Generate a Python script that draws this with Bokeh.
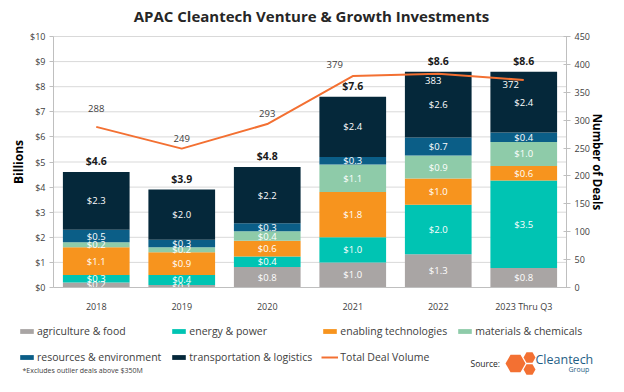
from bokeh.plotting import figure
from bokeh.models import (ColumnDataSource, Range1d, LinearAxis, Legend, LegendItem,
                          Label, NumeralTickFormatter, FixedTicker)
from bokeh.core.properties import value
from bokeh.embed import file_html
from bokeh.resources import INLINE

# ---------------- data ----------------
years = ["2018", "2019", "2020", "2021", "2022", "2023 Thru Q3"]
agriculture = [0.2, 0.1, 0.82, 1.0, 1.32, 0.78]
energy = [0.3, 0.4, 0.42, 1.0, 1.98, 3.48]
enabling = [1.1, 0.9, 0.62, 1.8, 1.04, 0.58]
materials = [0.2, 0.2, 0.38, 1.1, 0.92, 0.96]
resources = [0.5, 0.3, 0.32, 0.3, 0.72, 0.38]
transport = [2.3, 2.0, 2.24, 2.4, 2.62, 2.42]
totals = [4.6, 3.9, 4.8, 7.6, 8.6, 8.6]
deals = [288, 249, 293, 379, 383, 372]
series_names = ["agriculture & food", "energy & power", "enabling technologies",
                "materials & chemicals", "resources & environment",
                "transportation & logistics"]
left_ticks = list(range(0, 11))
right_ticks = list(range(0, 451, 50))

# ---------------- style / layout constants ----------------
FONT = "Open Sans"
colors = ["#A9A5A4", "#00C4B3", "#F7941E", "#8ECBA9", "#0B5E87", "#05283A"]
line_color = "#F37032"
deal_dx = [0, 0, 0, -18, -5, -13]
deal_dy = [-18, -10, -11, -12, 7, 4]
deal_colors = ["#404040", "#404040", "#404040", "#404040", "#FFFFFF", "#FFFFFF"]
lab_col = "#404040"
ax_col = "#BFBFBF"
W, H = 608, 376                  # canvas
PL, PR, PT, PB = 53, 42, 36, 89  # chart area margins inside the frame
OFF = 8                          # page margin offset for the pixel coordinates

n = len(years)
xs = list(range(n))
x_lo, x_hi = -0.5, n - 0.5
ux = (W - PL - PR) / (x_hi - x_lo)
y_max = left_ticks[-1]
uy = (H - PT - PB) / y_max
d_max = right_ticks[-1]
ud = (H - PT - PB) / d_max

p = figure(width=W, height=H, x_range=Range1d(-OFF, W - OFF),
           y_range=Range1d(OFF, H + OFF),
           output_backend="svg", toolbar_location=None,
           x_axis_type=None, y_axis_type=None, min_border=0)
p.extra_x_ranges = {"c": Range1d(x_lo - PL / ux, x_hi + PR / ux)}
p.extra_y_ranges = {"b": Range1d(-PB / uy, y_max + PT / uy),
                    "deals": Range1d(-PB / ud, d_max + PT / ud)}
p.grid.visible = False
p.outline_line_color = None

# grid lines
p.segment(x0=x_lo, x1=x_hi, y0=left_ticks[1:], y1=left_ticks[1:],
          x_range_name="c", y_range_name="b", line_color="#D9D9D9", line_width=1)

series_vals = [agriculture, energy, enabling, materials, resources, transport]
keys = ["s%d" % i for i in range(len(series_vals))]
data = dict(x=xs)
for k, v in zip(keys, series_vals):
    data[k] = v
src = ColumnDataSource(data)
bars = p.vbar_stack(keys, x="x", width=0.78, source=src, fill_color=colors,
                    line_color=None, x_range_name="c", y_range_name="b")

# segment labels
lx, ly, lt = [], [], []
for i in range(n):
    base = 0.0
    for v in series_vals:
        val = v[i]
        lx.append(xs[i])
        ly.append(base + val / 2.0)
        lt.append("$%.1f" % val)
        base += val
p.text(x=lx, y=ly, text=lt, text_align="center", text_baseline="middle",
       text_color="white", text_font=value(FONT), text_font_size="9.5px",
       x_range_name="c", y_range_name="b")

# totals
p.text(x=xs, y=totals, text=["$%.1f" % t for t in totals], y_offset=-11,
       text_align="center", text_baseline="middle", text_color="#1A1A1A",
       text_font=value(FONT), text_font_size="10.5px", text_font_style="bold",
       x_range_name="c", y_range_name="b")

# deal line
ln = p.line(x=xs, y=deals, x_range_name="c", y_range_name="deals",
            line_color=line_color, line_width=2)
dsrc = ColumnDataSource(dict(x=xs, y=deals, t=[str(d) for d in deals],
                             dx=deal_dx, dy=deal_dy, c=deal_colors))
p.text(x="x", y="y", text="t", x_offset="dx", y_offset="dy", text_color="c",
       source=dsrc, x_range_name="c", y_range_name="deals", text_align="center",
       text_baseline="middle", text_font=value(FONT), text_font_size="9.5px")

# axes (fixed at the chart-area edges)
yl = LinearAxis(x_range_name="c", y_range_name="b", fixed_location=x_lo,
                bounds=(0, y_max), ticker=FixedTicker(ticks=left_ticks),
                formatter=NumeralTickFormatter(format="$0"),
                axis_label="Billions")
yr_ax = LinearAxis(x_range_name="c", y_range_name="deals", fixed_location=x_hi,
                   bounds=(0, d_max), ticker=FixedTicker(ticks=right_ticks),
                   axis_label="Number of Deals")
xa = LinearAxis(x_range_name="c", y_range_name="b", fixed_location=0,
                bounds=(x_lo, x_hi), ticker=FixedTicker(ticks=xs),
                major_label_overrides={i: y for i, y in zip(xs, years)})
p.add_layout(yl, "left")
p.add_layout(yr_ax, "right")
p.add_layout(xa, "below")
for ax in (yl, yr_ax):
    ax.axis_line_color = ax_col
    ax.major_tick_line_color = ax_col
    ax.minor_tick_line_color = None
    ax.major_tick_out = 4
    ax.major_tick_in = 0
    ax.major_label_text_font = FONT
    ax.major_label_text_font_size = "9px"
    ax.major_label_text_color = lab_col
    ax.axis_label_text_font = FONT
    ax.axis_label_text_font_size = "12px"
    ax.axis_label_text_font_style = "bold"
    ax.axis_label_text_color = "#000000"
    ax.axis_label_standoff = 0
    ax.major_label_standoff = 4
yr_ax.major_tick_in = 3
yr_ax.axis_label_text_font_size = "11.5px"
yr_ax.axis_label_standoff = -3
xa.axis_line_color = ax_col
xa.major_tick_line_color = None
xa.minor_tick_line_color = None
xa.major_label_text_font = FONT
xa.major_label_text_font_size = "9px"
xa.major_label_text_color = lab_col
xa.major_label_standoff = 6

# title (page pixel coordinates)
p.add_layout(Label(x=W / 2 - 1, y=H - 7, text="APAC Cleantech Venture & Growth Investments",
                   text_font=FONT, text_font_size="15px", text_font_style="bold",
                   text_color="#262626", text_align="center",
                   text_baseline="middle"))

# legend
items = [LegendItem(label=s, renderers=[r]) for s, r in zip(series_names, bars)]
items.append(LegendItem(label="Total Deal Volume", renderers=[ln]))
legend = Legend(items=items, location=(18, 19 - OFF), orientation="horizontal",
                ncols=4, label_text_font=FONT, label_text_font_size="10.5px",
                label_text_color=lab_col, glyph_width=17, glyph_height=6,
                label_standoff=2, spacing=9, padding=0, margin=0,
                border_line_alpha=0, background_fill_alpha=0,
                label_height=17)
p.add_layout(legend)

# footnote and source
p.add_layout(Label(x=14, y=14, text="*Excludes outlier deals above $350M",
                   text_font=FONT, text_font_size="7px", text_color=lab_col,
                   text_baseline="middle"))
p.add_layout(Label(x=462, y=21, text="Source:", text_font=FONT,
                   text_font_size="8.5px", text_color="#262626",
                   text_baseline="middle"))
p.scatter(x=[507, 521, 521], y=[21, 27, 15], size=[20, 12, 12], marker="hex",
          fill_color=line_color, line_color=None)
p.add_layout(Label(x=527, y=25, text="Cleantech", text_font=FONT,
                   text_font_size="12.5px", text_color="#1F5E86",
                   text_baseline="middle"))
p.add_layout(Label(x=560, y=15, text="Group", text_font=FONT,
                   text_font_size="7px", text_color="#1F5E86",
                   text_baseline="middle"))

open("out.html", "w").write(file_html(p, INLINE))
